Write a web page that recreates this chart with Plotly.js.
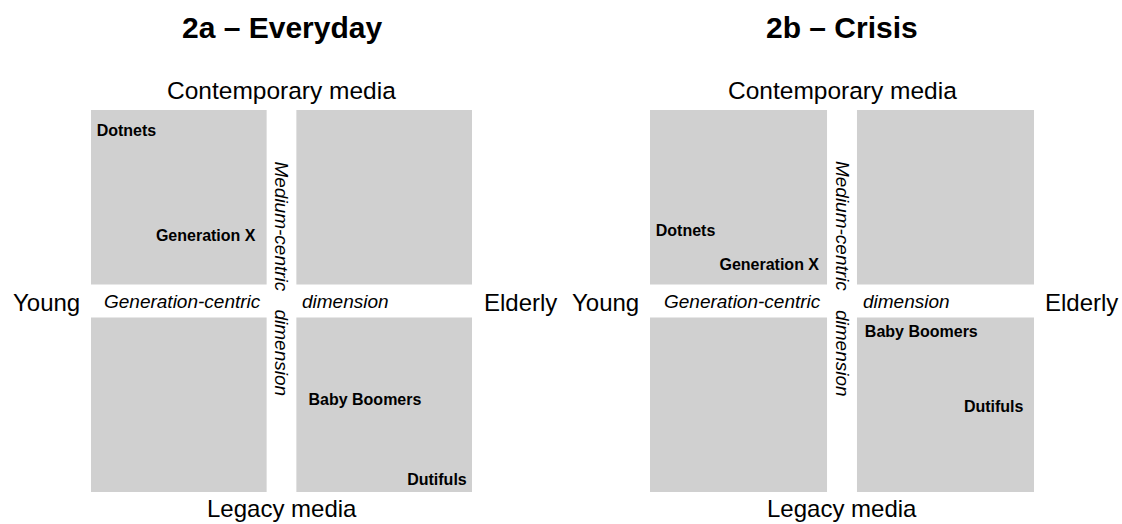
<!DOCTYPE html>
<html>
<head>
<meta charset="utf-8">
<script src="https://cdn.plot.ly/plotly-3.0.1.min.js"></script>
<style>html,body{margin:0;padding:0;background:#fff;}#chart{width:1122px;height:524px;}</style>
</head>
<body>
<div id="chart"></div>
<script>
// ---- data ----
const panelTitles = ['2a \u2013 Everyday', '2b \u2013 Crisis'];
const generations = ['Dotnets', 'Generation X', 'Baby Boomers', 'Dutifuls'];
// positions on the generation (x: young -> elderly) and medium (y: legacy -> contemporary) dimensions
const everydayX = [-0.814, -0.398, 0.438, 0.816];
const everydayY = [0.885, 0.335, -0.524, -0.942];
const crisisX = [-0.815, -0.379, 0.413, 0.790];
const crisisY = [0.361, 0.183, -0.168, -0.560];
const topLabel = 'Contemporary media';
const bottomLabel = 'Legacy media';
const leftLabel = 'Young';
const rightLabel = 'Elderly';
const genDimLabels = ['Generation-centric', 'dimension'];
const medDimLabels = ['Medium-centric', 'dimension'];

// ---- layout constants ----
const W = 1122, H = 524;
const FONT = '"Liberation Sans", Arial, Helvetica, sans-serif';
const GRAY = '#d0d0d0';
const gapX = 0.078, gapY = 0.086;
const panelCenters = [281.5, 842];      // px
const panelLR = [[46.7, 520], [605.5, 1081.5]]; // px centres of Young / Elderly
const px = v => v / W, py = v => (H - v) / H;

function textTrace(xs, ys, ax) {
  return {
    type: 'scatter', mode: 'text', x: xs, y: ys, text: generations,
    textposition: 'middle center', xaxis: ax, yaxis: 'y',
    textfont: {family: FONT, size: 16, color: '#000', weight: 'bold'},
    hoverinfo: 'skip', showlegend: false, cliponaxis: false
  };
}

const traces = [textTrace(everydayX, everydayY, 'x'), textTrace(crisisX, crisisY, 'x2')];

const shapes = [];
const annotations = [];
['x', 'x2'].forEach((ax, i) => {
  const quads = [[-1, -gapX, gapY, 1], [gapX, 1, gapY, 1], [-1, -gapX, -1, -gapY], [gapX, 1, -1, -gapY]];
  quads.forEach(q => shapes.push({type: 'rect', xref: ax, yref: 'y', x0: q[0], x1: q[1], y0: q[2], y1: q[3],
    fillcolor: GRAY, line: {width: 0}, layer: 'below'}));
  const pap = {xref: 'paper', yref: 'paper', showarrow: false, xanchor: 'center', yanchor: 'middle'};
  const base = {xref: ax, yref: 'y', showarrow: false, xanchor: 'center', yanchor: 'middle'};
  annotations.push(Object.assign({}, pap, {x: px(panelCenters[i]), y: py(28), text: '<b>' + panelTitles[i] + '</b>',
    font: {family: FONT, size: 30, color: '#000'}}));
  annotations.push(Object.assign({}, pap, {x: px(panelCenters[i]), y: py(90), text: topLabel, font: {family: FONT, size: 24.5, color: '#000'}}));
  annotations.push(Object.assign({}, pap, {x: px(panelCenters[i]), y: py(508), text: bottomLabel, font: {family: FONT, size: 24, color: '#000'}}));
  annotations.push(Object.assign({}, pap, {x: px(panelLR[i][0]), y: py(302), text: leftLabel, font: {family: FONT, size: 24, color: '#000'}}));
  annotations.push(Object.assign({}, pap, {x: px(panelLR[i][1]), y: py(302), text: rightLabel, font: {family: FONT, size: 24, color: '#000'}}));
  annotations.push(Object.assign({}, base, {x: -0.52, y: 0, text: '<i>' + genDimLabels[0] + '</i>', font: {family: FONT, size: 19, color: '#000'}}));
  annotations.push(Object.assign({}, base, {x: 0.336, y: 0, text: '<i>' + genDimLabels[1] + '</i>', font: {family: FONT, size: 19, color: '#000'}}));
  annotations.push(Object.assign({}, base, {x: 0, y: 0.393, text: '<i>' + medDimLabels[0] + '</i>', textangle: 90, font: {family: FONT, size: 19, color: '#000'}}));
  annotations.push(Object.assign({}, base, {x: 0, y: -0.272, text: '<i>' + medDimLabels[1] + '</i>', textangle: 90, font: {family: FONT, size: 19, color: '#000'}}));
});

const axisCommon = {range: [-1, 1], showgrid: false, zeroline: false, showticklabels: false, ticks: '', showline: false, fixedrange: true};
const layout = {
  width: W, height: H,
  margin: {l: 0, r: 0, t: 0, b: 0},
  paper_bgcolor: '#fff', plot_bgcolor: 'rgba(0,0,0,0)',
  showlegend: false,
  xaxis: Object.assign({}, axisCommon, {domain: [91 / W, 472 / W]}),
  xaxis2: Object.assign({}, axisCommon, {domain: [650 / W, 1034 / W], anchor: 'y'}),
  yaxis: Object.assign({}, axisCommon, {domain: [32 / H, 414 / H]}),
  shapes: shapes,
  annotations: annotations
};
Plotly.newPlot('chart', traces, layout, {displayModeBar: false, staticPlot: true});
</script>
</body>
</html>
